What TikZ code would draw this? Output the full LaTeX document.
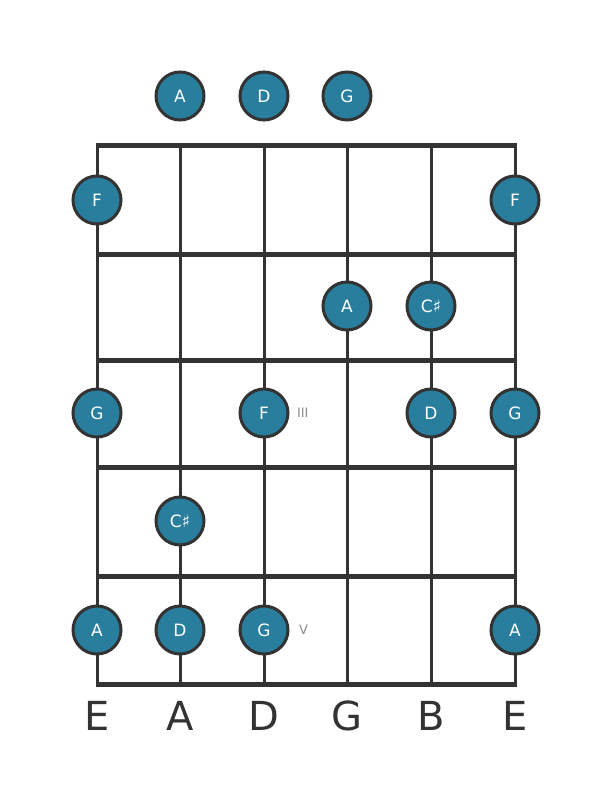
\documentclass[tikz,border=0pt]{standalone}
\usepackage{fontspec}
\setmainfont{DejaVu Sans}
\usepackage{xcolor}
\usetikzlibrary{positioning}

\definecolor{notefill}{RGB}{40,126,156}
\definecolor{ink}{RGB}{51,51,51}

\begin{document}
\begin{tikzpicture}[
        x=1pt, y=-1pt,
        fret/.style={ink, line width=5pt},
        gstring/.style={ink, line width=3pt},
        note/.style={circle, draw=ink, line width=3pt, fill=notefill, minimum size=48pt, inner sep=0pt, text=white, font=\fontsize{17}{17}\selectfont},
        tuning/.style={text=ink, font=\fontsize{40}{40}\selectfont},
        position/.style={text=black!45, font=\fontsize{13}{13}\selectfont}
    ]
        \useasboundingbox (0,0) rectangle (611,801);

        % Strings
        \draw[gstring] (97,145) -- (97,684);
        \draw[gstring] (180,145) -- (180,684);
        \draw[gstring] (264,145) -- (264,684);
        \draw[gstring] (347,145) -- (347,684);
        \draw[gstring] (431,145) -- (431,684);
        \draw[gstring] (515,145) -- (515,684);

        % Frets
        \draw[fret] (95.5,145) -- (516.5,145);
        \draw[fret] (95.5,254) -- (516.5,254);
        \draw[fret] (95.5,360) -- (516.5,360);
        \draw[fret] (95.5,467) -- (516.5,467);
        \draw[fret] (95.5,576) -- (516.5,576);
        \draw[fret] (95.5,684) -- (516.5,684);

        % Open strings
        \node[note] (openA) at (180,96) {A};
        \node[note] (openD) at (264,96) {D};
        \node[note] (openG) at (347,96) {G};

        % Fret 1
        \node[note] (f1e) at (97,200) {F};
        \node[note] (f1E) at (515,200) {F};

        % Fret 2
        \node[note] (f2g) at (347,306) {A};
        \node[note] (f2b) at (431,306) {C♯};

        % Fret 3
        \node[note] (f3e) at (97,413) {G};
        \node[note] (f3d) at (264,413) {F};
        \node[note] (f3b) at (431,413) {D};
        \node[note] (f3E) at (515,413) {G};
        \node[position, right=4pt of f3d] (posIII) {III};

        % Fret 4
        \node[note] (f4a) at (180,521) {C♯};

        % Fret 5
        \node[note] (f5e) at (97,630) {A};
        \node[note] (f5a) at (180,630) {D};
        \node[note] (f5d) at (264,630) {G};
        \node[note] (f5E) at (515,630) {A};
        \node[position, right=6pt of f5d] (posV) {V};

        % Tuning
        \node[tuning] (tE) at (97,716) {E};
        \node[tuning] (tA) at (180,716) {A};
        \node[tuning] (tD) at (264,716) {D};
        \node[tuning] (tG) at (347,716) {G};
        \node[tuning] (tB) at (431,716) {B};
        \node[tuning] (te) at (515,716) {E};
    \end{tikzpicture}
\end{document}
